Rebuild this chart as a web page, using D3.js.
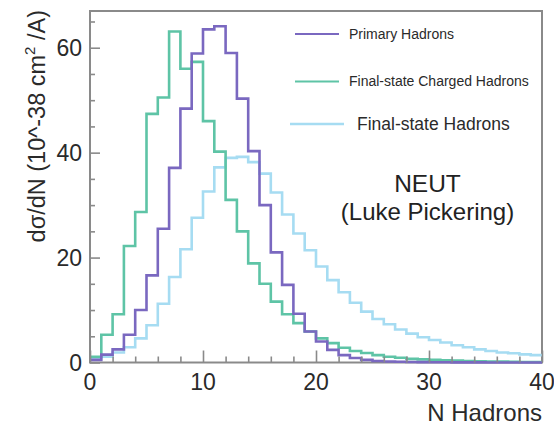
<!DOCTYPE html>
<html>
<head>
<meta charset="utf-8">
<script src="https://cdn.jsdelivr.net/npm/d3@7"></script>
<style>
  html, body { margin: 0; padding: 0; background: #fff; }
  svg { display: block; font-family: "Liberation Sans", Arial, Helvetica, sans-serif; }
</style>
</head>
<body>
<svg id="chart" width="554" height="431"></svg>
<script>
// Hadron multiplicity distributions, 1-hadron wide bins from 0 to 40
const binEdges = d3.range(0, 41);            // 0,1,...,40
const primaryHadrons = [0.5, 1.5, 2.5, 5.3, 10.0, 16.6, 25.5, 37.1, 48.4, 58.9,
  63.5, 64.1, 59.0, 50.3, 40.3, 30.0, 21.0, 14.8, 9.3, 5.9,
  4.0, 2.4, 1.4, 0.85, 0.5, 0.3, 0.2, 0.15, 0.1, 0.08,
  0.05, 0.04, 0.03, 0.02, 0.02, 0.01, 0.01, 0.01, 0.0, 0.0];
const chargedHadrons = [1.1, 5.3, 9.2, 22.2, 28.7, 47.4, 50.5, 63.1, 56.0, 57.3,
  46.0, 40.2, 31.0, 25.0, 18.9, 15.0, 11.6, 9.2, 7.5, 5.9,
  4.6, 3.7, 2.8, 2.2, 1.8, 1.4, 1.1, 0.9, 0.7, 0.6,
  0.5, 0.4, 0.35, 0.3, 0.25, 0.2, 0.2, 0.15, 0.1, 0.1];
const finalHadrons = [0.8, 1.1, 1.9, 2.9, 4.6, 7.1, 11.2, 16.3, 21.6, 27.6,
  32.6, 37.2, 39.0, 39.2, 38.2, 36.0, 32.4, 28.2, 24.6, 21.4,
  18.3, 15.7, 13.4, 11.4, 9.7, 8.3, 7.3, 6.3, 5.5, 4.8,
  4.3, 3.8, 3.3, 2.9, 2.5, 2.2, 1.9, 1.75, 1.55, 1.4];

const xMajorTicks = [0, 10, 20, 30, 40];
const yMajorTicks = [0, 20, 40, 60];
const seriesNames = ["Primary Hadrons", "Final-state Charged Hadrons", "Final-state Hadrons"];

const colors = ["#7a68c0", "#5ec4a6", "#a6dcf2"];

const svg = d3.select("#chart");
const plot = { left: 90, right: 542, top: 11, bottom: 362.5 };

const x = d3.scaleLinear().domain([0, 40]).range([plot.left, plot.right]);
const y = d3.scaleLinear().domain([0, 67]).range([plot.bottom, plot.top]);

const axisColor = "#8a8a8a";
const textColor = "#2a2a2a";

// frame
svg.append("rect")
  .attr("x", plot.left).attr("y", plot.top)
  .attr("width", plot.right - plot.left).attr("height", plot.bottom - plot.top)
  .attr("fill", "none").attr("stroke", axisColor).attr("stroke-width", 2);

// histograms as step outlines
const step = d3.line()
  .x(d => x(d[0]))
  .y(d => y(d[1]))
  .curve(d3.curveStepAfter);

const series = [primaryHadrons, chargedHadrons, finalHadrons];
const drawOrder = [2, 1, 0];
drawOrder.forEach(k => {
  const vals = series[k];
  const pts = vals.map((v, i) => [binEdges[i], v]);
  pts.push([binEdges[vals.length], vals[vals.length - 1]]);
  svg.append("path")
    .attr("d", step(pts))
    .attr("fill", "none")
    .attr("stroke", colors[k])
    .attr("stroke-width", 2.6)
    .attr("stroke-linejoin", "miter");
});

// x axis ticks
const xAxis = d3.axisBottom(x)
  .tickValues(d3.range(0, 41, 2))
  .tickSize(0)
  .tickFormat("");
const xg = svg.append("g").attr("transform", `translate(0,${plot.bottom})`).call(xAxis);
xg.select(".domain").remove();
xg.selectAll(".tick line")
  .attr("y1", 0)
  .attr("y2", d => xMajorTicks.includes(d) ? -12 : -6)
  .attr("stroke", axisColor).attr("stroke-width", 1.6);
svg.append("g").selectAll("text").data(xMajorTicks).join("text")
  .attr("x", d => x(d)).attr("y", 390)
  .attr("text-anchor", "middle")
  .attr("font-size", 23).attr("fill", textColor)
  .text(d => d);

// y axis ticks
const yAxis = d3.axisLeft(y)
  .tickValues(d3.range(0, 66, 5))
  .tickSize(0)
  .tickFormat("");
const yg = svg.append("g").attr("transform", `translate(${plot.left},0)`).call(yAxis);
yg.select(".domain").remove();
yg.selectAll(".tick line")
  .attr("x1", 0)
  .attr("x2", d => yMajorTicks.includes(d) ? 10 : 5)
  .attr("stroke", axisColor).attr("stroke-width", 1.6);
svg.append("g").selectAll("text").data(yMajorTicks).join("text")
  .attr("x", 82).attr("y", d => y(d) + 8)
  .attr("text-anchor", "end")
  .attr("font-size", 23).attr("fill", textColor)
  .text(d => d);

// axis titles
svg.append("text")
  .attr("x", 542).attr("y", 421)
  .attr("text-anchor", "end")
  .attr("font-size", 24).attr("fill", textColor)
  .text("N Hadrons");

const yt = svg.append("text")
  .attr("transform", "translate(45,10) rotate(-90)")
  .attr("text-anchor", "end")
  .attr("font-size", 23.5).attr("fill", textColor);
yt.append("tspan").text("dσ/dN (10^-38 cm");
yt.append("tspan").attr("dy", -10).attr("font-size", 15).text("2");
yt.append("tspan").attr("dy", 10).text(" /A)");

// legend
const legend = [
  { x1: 295, x2: 339, y: 34, tx: 349, size: 14, w: 2 },
  { x1: 295, x2: 339, y: 81.5, tx: 349, size: 14, w: 2 },
  { x1: 290, x2: 344, y: 124, tx: 357, size: 17.5, w: 2.5 }
];
legend.forEach((l, k) => {
  svg.append("line")
    .attr("x1", l.x1).attr("x2", l.x2).attr("y1", l.y).attr("y2", l.y)
    .attr("stroke", colors[k]).attr("stroke-width", l.w);
  svg.append("text")
    .attr("x", l.tx).attr("y", l.y)
    .attr("dy", "0.35em")
    .attr("font-size", l.size).attr("fill", textColor)
    .text(seriesNames[k]);
});

// generator annotation
svg.append("text")
  .attr("x", 427.5).attr("y", 192)
  .attr("text-anchor", "middle")
  .attr("font-size", 24.5).attr("fill", "#222")
  .text("NEUT");
svg.append("text")
  .attr("x", 427.5).attr("y", 220)
  .attr("text-anchor", "middle")
  .attr("font-size", 24).attr("fill", "#222")
  .text("(Luke Pickering)");
</script>
</body>
</html>
